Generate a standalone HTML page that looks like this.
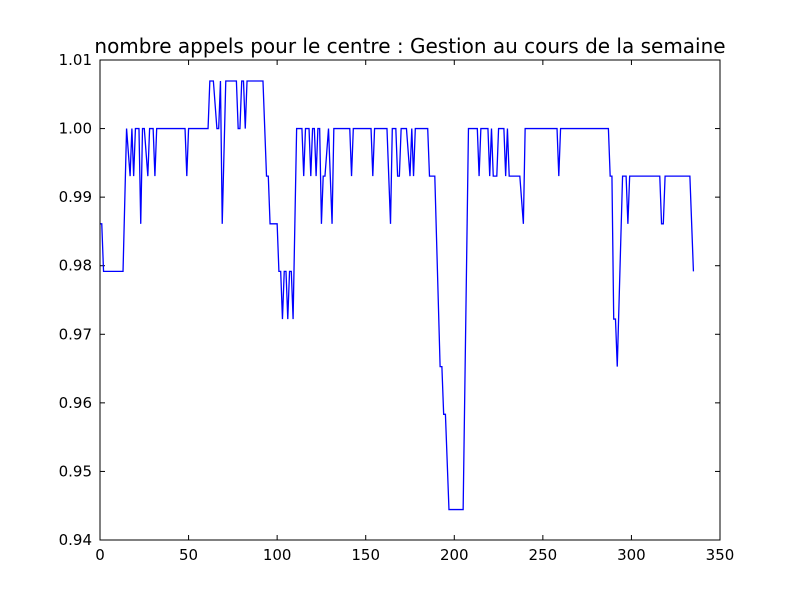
<!DOCTYPE html>
<html><head><meta charset="utf-8"><style>
body{margin:0;background:#fff;}
svg{display:block;font-family:"DejaVu Sans","Liberation Sans",sans-serif;}
</style></head><body>
<svg id="chart" width="800" height="600">
<rect x="0" y="0" width="800" height="600" fill="#fff"/>
<text x="410" y="53" text-anchor="middle" font-size="20">nombre appels pour le centre : Gestion au cours de la semaine</text>
<g id="axes"></g>
<path id="line" fill="none" stroke="#0000ff" stroke-width="1.3"/>
<rect x="100" y="60" width="620" height="480" fill="none" stroke="#000" stroke-width="1"/>
</svg>
<script>
const xIdx = [0,1,2,13,15,17,18,19,20,22,23,24,25,27,28,30,31,32,48,49,50,61,62,64,66,67,68,69,71,77,78,79,80,81,82,83,92,94,95,96,100,101,102,103,104,105,106,107,108,109,111,114,115,116,118,119,120,121,122,123,124,125,126,127,129,131,132,141,142,143,153,154,155,162,164,165,167,168,169,170,173,175,176,177,178,185,186,189,192,193,194,195,197,205,208,213,214,215,219,220,221,222,224,225,228,229,230,231,237,239,240,258,259,260,287,288,289,290,291,292,295,297,298,299,316,317,318,319,333,335];
const yVal = [0.98611,0.98611,0.97917,0.97917,1,0.99306,1,0.99306,1,1,0.98611,1,1,0.99306,1,1,0.99306,1,1,0.99306,1,1,1.00694,1.00694,1,1,1.00694,0.98611,1.00694,1.00694,1,1,1.00694,1.00694,1,1.00694,1.00694,0.99306,0.99306,0.98611,0.98611,0.97917,0.97917,0.97222,0.97917,0.97917,0.97222,0.97917,0.97917,0.97222,1,1,0.99306,1,1,0.99306,1,1,0.99306,1,1,0.98611,0.99306,0.99306,1,0.98611,1,1,0.99306,1,1,0.99306,1,1,0.98611,1,1,0.99306,0.99306,1,1,0.99306,1,0.99306,1,1,0.99306,0.99306,0.96528,0.96528,0.95833,0.95833,0.94444,0.94444,1,1,0.99306,1,1,0.99306,1,0.99306,0.99306,1,1,0.99306,1,0.99306,0.99306,0.98611,1,1,0.99306,1,1,0.99306,0.99306,0.97222,0.97222,0.96528,0.99306,0.99306,0.98611,0.99306,0.99306,0.98611,0.98611,0.99306,0.99306,0.97917];
const xTicks = [0,50,100,150,200,250,300,350];
const yTicks = [0.94,0.95,0.96,0.97,0.98,0.99,1.00,1.01];
const yTickLabels = ["0.94","0.95","0.96","0.97","0.98","0.99","1.00","1.01"];

const X0=100,X1=720,Y0=540,Y1=60,xMin=0,xMax=350,yMin=0.94,yMax=1.01;
const sx=v=>X0+(v-xMin)/(xMax-xMin)*(X1-X0);
const sy=v=>Y0-(v-yMin)/(yMax-yMin)*(Y0-Y1);
const NS="http://www.w3.org/2000/svg";
const axes=document.getElementById('axes');
function mk(tag,at){const e=document.createElementNS(NS,tag);for(const k in at)e.setAttribute(k,at[k]);axes.appendChild(e);return e;}
xTicks.forEach((t,i)=>{
  const x=sx(t);
  const a=mk('line',{x1:x,y1:Y0,x2:x,y2:Y0-5,stroke:'#000'});
  
  
  const b=mk('line',{x1:x,y1:Y1,x2:x,y2:Y1+5,stroke:'#000'});
  
  
  const l=mk('text',{x:x,y:Y0+20,'text-anchor':'middle','font-size':'15'});
  l.textContent=String(t);
  
  
});
yTicks.forEach((t,i)=>{
  const y=sy(t);
  const a=mk('line',{x1:X0,y1:y,x2:X0+5,y2:y,stroke:'#000'});
  
  
  const b=mk('line',{x1:X1,y1:y,x2:X1-5,y2:y,stroke:'#000'});
  
  
  const l=mk('text',{x:X0-8,y:y+5,'text-anchor':'end','font-size':'15'});
  l.textContent=yTickLabels[i];
  
  
});
let d='';
xIdx.forEach((x,i)=>{d+=(i?'L':'M')+sx(x).toFixed(2)+' '+sy(yVal[i]).toFixed(2);});
document.getElementById('line').setAttribute('d',d);
</script>
</body></html>
